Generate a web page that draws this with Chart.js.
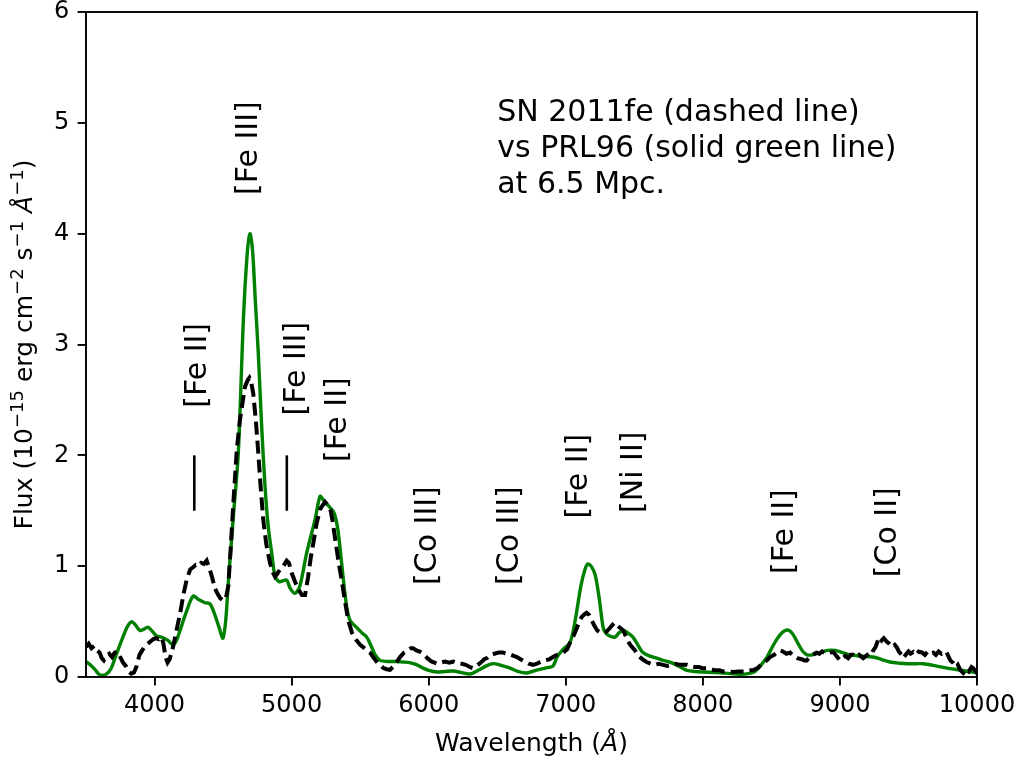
<!DOCTYPE html>
<html>
<head>
<meta charset="utf-8">
<title>SN 2011fe vs PRL96</title>
<script src="https://cdn.jsdelivr.net/npm/chart.js@4.4.1/dist/chart.umd.min.js"></script>
<style>
  html, body { margin: 0; padding: 0; background: #fff; }
  #wrap { width: 1021px; height: 759px; }
</style>
</head>
<body>
<div id="wrap"><canvas id="spectrum" width="1021" height="759"></canvas></div>
<script>
// observed nebular spectrum of SN 2011fe (dashed)
const snWave = [3500, 3520, 3540, 3560, 3580, 3600, 3615, 3630, 3650, 3670, 3690, 3710, 3730, 3750, 3770, 3790, 3810, 3830, 3850, 3870,
  3890, 3910, 3930, 3950, 3970, 3990, 4010, 4030, 4050, 4065, 4080, 4095, 4110, 4135, 4160, 4186, 4210, 4235, 4260, 4281,
  4300, 4320, 4340, 4360, 4380, 4400, 4420, 4440, 4460, 4480, 4500, 4520, 4538, 4555, 4575, 4600, 4623, 4645, 4660, 4680,
  4692, 4705, 4720, 4740, 4757, 4775, 4793, 4815, 4842, 4860, 4879, 4895, 4915, 4940, 4964, 4980, 5000, 5025, 5050, 5075,
  5098, 5120, 5140, 5160, 5183, 5210, 5243, 5265, 5285, 5300, 5316, 5340, 5365, 5390, 5413, 5440, 5474, 5500, 5521, 5550,
  5572, 5600, 5625, 5645, 5670, 5693, 5718, 5745, 5766, 5791, 5820, 5849, 5870, 5886, 5910, 5935, 5959, 5990, 6020, 6061,
  6090, 6120, 6150, 6180, 6207, 6240, 6270, 6300, 6323, 6350, 6380, 6405, 6425, 6450, 6480, 6510, 6542, 6570, 6600, 6620,
  6644, 6670, 6700, 6730, 6761, 6790, 6820, 6850, 6880, 6907, 6936, 6960, 6990, 7010, 7031, 7060, 7090, 7115, 7140, 7152,
  7170, 7190, 7210, 7230, 7250, 7270, 7298, 7320, 7340, 7359, 7380, 7400, 7420, 7447, 7470, 7505, 7530, 7560, 7590, 7620,
  7650, 7680, 7709, 7740, 7770, 7800, 7830, 7860, 7882, 7910, 7940, 7970, 8000, 8028, 8060, 8090, 8120, 8150, 8180, 8222,
  8260, 8300, 8340, 8368, 8400, 8430, 8466, 8490, 8520, 8540, 8563, 8585, 8610, 8636, 8660, 8690, 8720, 8740, 8758, 8780,
  8800, 8830, 8850, 8870, 8900, 8930, 8952, 8975, 9000, 9020, 9040, 9060, 9080, 9097, 9120, 9140, 9170, 9190, 9210, 9230,
  9243, 9260, 9280, 9292, 9305, 9320, 9341, 9360, 9380, 9400, 9414, 9430, 9450, 9462, 9480, 9500, 9515, 9535, 9555, 9575,
  9600, 9620, 9640, 9660, 9681, 9700, 9720, 9740, 9760, 9778, 9790, 9805, 9827, 9845, 9860, 9880, 9900, 9920, 9940, 9960,
  9973, 9990, 10000];
const snFlux = [0.27, 0.30, 0.26, 0.28, 0.24, 0.22, 0.17, 0.15, 0.19, 0.21, 0.18, 0.22, 0.23, 0.18, 0.13, 0.10, 0.05, 0.03, 0.04, 0.10,
  0.20, 0.24, 0.28, 0.30, 0.32, 0.34, 0.35, 0.34, 0.36, 0.30, 0.18, 0.13, 0.16, 0.27, 0.42, 0.57, 0.74, 0.88, 0.97, 0.99,
  1.01, 1.00, 1.03, 1.02, 1.05, 0.98, 0.90, 0.80, 0.75, 0.71, 0.69, 0.71, 0.82, 1.15, 1.57, 2.05, 2.32, 2.50, 2.62, 2.68,
  2.70, 2.66, 2.56, 2.30, 2.02, 1.70, 1.42, 1.20, 1.03, 0.95, 0.905, 0.93, 0.97, 1.00, 1.05, 1.03, 0.94, 0.86, 0.79, 0.74,
  0.74, 0.90, 1.08, 1.22, 1.39, 1.52, 1.58, 1.55, 1.50, 1.40, 1.26, 1.06, 0.875, 0.68, 0.51, 0.40, 0.33, 0.29, 0.27, 0.24,
  0.22, 0.17, 0.13, 0.11, 0.08, 0.07, 0.065, 0.10, 0.135, 0.18, 0.22, 0.24, 0.26, 0.26, 0.24, 0.23, 0.21, 0.17, 0.14, 0.12,
  0.13, 0.14, 0.13, 0.14, 0.13, 0.12, 0.11, 0.09, 0.08, 0.10, 0.13, 0.16, 0.17, 0.20, 0.21, 0.22, 0.22, 0.21, 0.20, 0.19,
  0.18, 0.16, 0.14, 0.12, 0.11, 0.12, 0.14, 0.15, 0.16, 0.18, 0.20, 0.21, 0.23, 0.25, 0.31, 0.38, 0.47, 0.54, 0.57, 0.58,
  0.56, 0.51, 0.46, 0.42, 0.40, 0.40, 0.41, 0.44, 0.47, 0.49, 0.46, 0.44, 0.42, 0.34, 0.29, 0.24, 0.19, 0.16, 0.135, 0.12,
  0.11, 0.12, 0.11, 0.10, 0.11, 0.12, 0.11, 0.11, 0.11, 0.10, 0.09, 0.09, 0.08, 0.08, 0.07, 0.06, 0.06, 0.05, 0.05, 0.045,
  0.05, 0.05, 0.06, 0.063, 0.08, 0.12, 0.15, 0.18, 0.20, 0.22, 0.24, 0.23, 0.21, 0.22, 0.19, 0.17, 0.16, 0.15, 0.15, 0.18,
  0.20, 0.22, 0.21, 0.23, 0.21, 0.22, 0.225, 0.19, 0.15, 0.17, 0.19, 0.17, 0.20, 0.20, 0.18, 0.20, 0.17, 0.19, 0.21, 0.20,
  0.24, 0.27, 0.34, 0.36, 0.33, 0.35, 0.32, 0.30, 0.27, 0.29, 0.27, 0.23, 0.20, 0.17, 0.20, 0.23, 0.21, 0.225, 0.20, 0.23,
  0.22, 0.20, 0.23, 0.21, 0.22, 0.20, 0.23, 0.21, 0.23, 0.225, 0.19, 0.15, 0.126, 0.09, 0.11, 0.06, 0.036, 0.07, 0.05, 0.09,
  0.08, 0.05, 0.07];

// PRL96 model spectrum (solid green)
const modelWave = [3500, 3540, 3570, 3600, 3640, 3680, 3726, 3760, 3800, 3833, 3860, 3894, 3920, 3952, 3985, 4016, 4050, 4098, 4135, 4160,
  4186, 4230, 4281, 4320, 4368, 4405, 4440, 4470, 4499, 4520, 4538, 4575, 4611, 4648, 4675, 4696, 4715, 4735, 4757, 4780,
  4806, 4830, 4855, 4879, 4910, 4940, 4964, 4990, 5025, 5060, 5110, 5171, 5207, 5230, 5265, 5300, 5316, 5335, 5353, 5380,
  5402, 5420, 5438, 5480, 5520, 5548, 5580, 5610, 5645, 5700, 5760, 5813, 5860, 5915, 5960, 6000, 6061, 6120, 6177, 6240,
  6301, 6360, 6420, 6470, 6498, 6540, 6593, 6650, 6717, 6780, 6850, 6907, 6936, 6980, 7031, 7070, 7110, 7140, 7160, 7185,
  7215, 7245, 7272, 7290, 7320, 7359, 7390, 7420, 7450, 7490, 7530, 7563, 7610, 7665, 7710, 7760, 7820, 7884, 7940, 8001,
  8100, 8200, 8271, 8330, 8380, 8420, 8468, 8520, 8563, 8600, 8630, 8660, 8700, 8730, 8760, 8800, 8854, 8910, 8964, 9020,
  9073, 9150, 9241, 9300, 9365, 9438, 9489, 9560, 9606, 9700, 9781, 9876, 9940, 10000];
const modelFlux = [0.14, 0.10, 0.06, 0.02, 0.02, 0.07, 0.22, 0.33, 0.45, 0.50, 0.47, 0.42, 0.43, 0.45, 0.41, 0.37, 0.36, 0.33, 0.29, 0.33,
  0.42, 0.58, 0.73, 0.70, 0.67, 0.66, 0.56, 0.45, 0.35, 0.52, 0.85, 1.45, 2.02, 3.22, 3.80, 4.00, 3.85, 3.40, 2.92, 2.30,
  1.72, 1.35, 1.12, 0.91, 0.86, 0.87, 0.875, 0.80, 0.755, 0.82, 1.12, 1.42, 1.63, 1.60, 1.55, 1.50, 1.46, 1.35, 1.17, 0.85,
  0.63, 0.53, 0.49, 0.44, 0.39, 0.36, 0.28, 0.20, 0.15, 0.14, 0.14, 0.135, 0.13, 0.11, 0.08, 0.06, 0.045, 0.05, 0.054, 0.04,
  0.027, 0.06, 0.10, 0.12, 0.117, 0.10, 0.08, 0.05, 0.036, 0.06, 0.08, 0.10, 0.18, 0.25, 0.31, 0.52, 0.82, 0.97, 1.02, 1.00,
  0.92, 0.70, 0.45, 0.40, 0.37, 0.36, 0.40, 0.42, 0.40, 0.36, 0.28, 0.22, 0.19, 0.17, 0.15, 0.135, 0.10, 0.06, 0.05, 0.045,
  0.04, 0.03, 0.025, 0.03, 0.05, 0.10, 0.18, 0.30, 0.38, 0.42, 0.42, 0.38, 0.29, 0.23, 0.20, 0.20, 0.22, 0.24, 0.24, 0.22,
  0.20, 0.19, 0.18, 0.16, 0.135, 0.124, 0.12, 0.12, 0.12, 0.10, 0.08, 0.063, 0.05, 0.04];

// line identifications: label, wavelength of label centre, flux at label foot
const lineNames = ['[Fe II]', '[Fe III]', '[Fe III]', '[Fe II]', '[Co III]', '[Co III]', '[Fe II]', '[Ni II]', '[Fe II]', '[Co II]'];
const lineWave = [4317, 4689, 5039, 5342, 5995, 6593, 7096, 7498, 8599, 9351];
const lineFlux = [2.43, 4.35, 2.36, 1.94, 0.83, 0.83, 1.43, 1.48, 0.93, 0.90];

// short vertical markers under the blended iron features
const markWave = [4290, 4965];
const markLow = 1.5;
const markHigh = 2.0;

const noteLines = ['SN 2011fe (dashed line)', 'vs PRL96 (solid green line)', 'at 6.5 Mpc.'];
const noteWave = 6500;
const noteFlux = 5.02;

const xTicks = [4000, 5000, 6000, 7000, 8000, 9000, 10000];
const yTicks = [0, 1, 2, 3, 4, 5, 6];

const FONT = '"DejaVu Sans"';

function pts(xs, ys) {
  return xs.map((w, i) => ({ x: w, y: ys[i] }));
}

// draw a string made of runs (plain / italic / superscript), centred on x
function drawRuns(ctx, runs, x, y, size) {
  const parts = runs.map(r => {
    const s = r.sup ? Math.round(size * 0.7) : size;
    const font = (r.italic ? 'italic ' : '') + s + 'px ' + FONT;
    ctx.font = font;
    return { text: r.text, sup: r.sup, font, w: ctx.measureText(r.text).width };
  });
  const total = parts.reduce((s, p) => s + p.w, 0);
  let cx = x - total / 2;
  ctx.textAlign = 'left';
  ctx.textBaseline = 'alphabetic';
  parts.forEach(p => {
    ctx.font = p.font;
    ctx.fillText(p.text, cx, y - (p.sup ? size * 0.38 : 0));
    cx += p.w;
  });
}

const annotate = {
  id: 'annotate',
  afterDatasetsDraw(chart) {
    const { ctx, chartArea: a, scales: { x, y } } = chart;
    ctx.save();
    ctx.strokeStyle = '#000';
    ctx.fillStyle = '#000';

    // axes box
    ctx.lineWidth = 1.9;
    ctx.strokeRect(a.left, a.top, a.right - a.left, a.bottom - a.top);

    // markers
    ctx.lineWidth = 2.6;
    markWave.forEach(w => {
      const px = x.getPixelForValue(w);
      ctx.beginPath();
      ctx.moveTo(px, y.getPixelForValue(markLow));
      ctx.lineTo(px, y.getPixelForValue(markHigh));
      ctx.stroke();
    });

    // rotated line ids
    ctx.font = '30px ' + FONT;
    ctx.textAlign = 'left';
    ctx.textBaseline = 'middle';
    lineNames.forEach((name, i) => {
      ctx.save();
      ctx.translate(x.getPixelForValue(lineWave[i]), y.getPixelForValue(lineFlux[i]));
      ctx.rotate(-Math.PI / 2);
      ctx.fillText(name, 0, 0);
      ctx.restore();
    });

    // note text
    ctx.textBaseline = 'alphabetic';
    noteLines.forEach((t, i) => {
      ctx.fillText(t, x.getPixelForValue(noteWave), y.getPixelForValue(noteFlux) + i * 36);
    });

    // axis titles
    drawRuns(ctx, [{ text: 'Wavelength (' }, { text: 'Å', italic: true }, { text: ')' }],
      (a.left + a.right) / 2, 751, 25);

    ctx.save();
    ctx.translate(32, (a.top + a.bottom) / 2);
    ctx.rotate(-Math.PI / 2);
    drawRuns(ctx, [
      { text: 'Flux (10' }, { text: '−15', sup: true },
      { text: ' erg cm' }, { text: '−2', sup: true },
      { text: ' s' }, { text: '−1', sup: true },
      { text: ' ' }, { text: 'Å', italic: true }, { text: '−1', sup: true },
      { text: ')' }
    ], 0, 0, 25);
    ctx.restore();

    ctx.restore();
  }
};

const tickFont = { family: 'DejaVu Sans', size: 24, lineHeight: 1 };

// keep the plot box fixed: no extra room for first/last tick labels
function noLabelPadding(s) {
  s.paddingTop = 0;
  s.paddingBottom = 0;
  s.paddingLeft = 0;
  s.paddingRight = 0;
}

new Chart(document.getElementById('spectrum'), {
  type: 'line',
  data: {
    datasets: [
      {
        label: 'SN 2011fe',
        data: pts(snWave, snFlux),
        borderColor: '#000',
        borderWidth: 4,
        borderDash: [13, 6],
        pointRadius: 0,
        tension: 0
      },
      {
        label: 'PRL96',
        data: pts(modelWave, modelFlux),
        borderColor: '#008000',
        borderWidth: 3.4,
        pointRadius: 0,
        tension: 0.3
      }
    ]
  },
  options: {
    responsive: false,
    animation: false,
    layout: { padding: { top: 12, right: 44, left: 0, bottom: 0 } },
    plugins: { legend: { display: false }, tooltip: { enabled: false } },
    scales: {
      x: {
        type: 'linear',
        min: 3500,
        max: 10000,
        afterBuildTicks: s => { s.ticks = xTicks.map(v => ({ value: v })); },
        afterFit: s => { s.height = 82; noLabelPadding(s); },
        ticks: { color: '#000', font: tickFont, padding: 8.6, maxRotation: 0, autoSkip: false,
                 callback: v => String(v) },
        grid: { drawOnChartArea: false, tickLength: 8.4, color: '#000', lineWidth: 1.9 },
        border: { display: false }
      },
      y: {
        type: 'linear',
        min: 0,
        max: 6,
        afterBuildTicks: s => { s.ticks = yTicks.map(v => ({ value: v })); },
        afterFit: s => { s.width = 86; noLabelPadding(s); },
        ticks: { color: '#000', font: tickFont, padding: 8.4, callback: v => String(v) },
        grid: { drawOnChartArea: false, tickLength: 8.4, color: '#000', lineWidth: 1.9 },
        border: { display: false }
      }
    }
  },
  plugins: [annotate]
});
</script>
</body>
</html>
